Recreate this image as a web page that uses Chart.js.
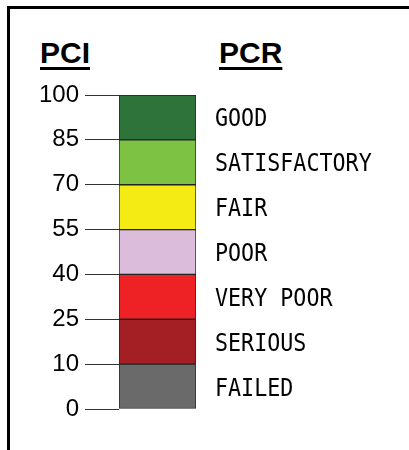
<!DOCTYPE html>
<html>
<head>
<meta charset="utf-8">
<script src="https://cdn.jsdelivr.net/npm/chart.js@4"></script>
<style>
    html, body { margin: 0; padding: 0; background: #fff; }
    #wrap { position: relative; width: 409px; height: 450px; overflow: hidden; }
    #frame {
        position: absolute; left: 7px; top: 6px; width: 402px; height: 444px;
        border-top: 3px solid #000; border-left: 3px solid #000; box-sizing: border-box;
    }
    .head {
        position: absolute; top: 38px; margin: 0;
        font: bold 30px "Liberation Sans", Arial, sans-serif; line-height: 1; color: #000;
        text-decoration: underline; text-decoration-thickness: 3px; text-underline-offset: 4px;
    }
    #chart { position: absolute; left: 0; top: 0; }
</style>
</head>
<body>
<div id="wrap">
    <div id="frame"></div>
    <div class="head" style="left:40px">PCI</div>
    <div class="head" style="left:219px">PCR</div>
    <canvas id="chart" width="409" height="450"></canvas>
</div>
<script>
// PCI break points, bottom to top, one per band edge
const pciTicks = ['0', '10', '25', '40', '55', '70', '85', '100'];
// PCR rating for each band, bottom to top
const ratings = ['FAILED', 'SERIOUS', 'VERY POOR', 'POOR', 'FAIR', 'SATISFACTORY', 'GOOD'];
const bandColors = ['#6a6a6a', '#a31f24', '#ee2125', '#dbbcdb', '#f5eb14', '#7dc242', '#2e733a'];

// every band gets the same height on the scale, edge i to edge i+1
const datasets = ratings.map((name, i) => ({
    label: name,
    data: [[i, i + 1]],
    backgroundColor: bandColors[i],
    borderColor: '#222',
    borderWidth: 1,
    borderSkipped: false,
    barPercentage: 1,
    categoryPercentage: 1
}));

// rating names in a tall narrow mono face, placed on the y2 tick positions
const ratingLabels = {
    id: 'ratingLabels',
    afterDraw(chart) {
        const { ctx, chartArea, scales } = chart;
        const y2 = scales.y2;
        ctx.save();
        ctx.fillStyle = '#000';
        ctx.font = '21.7px "DejaVu Sans Mono", "Liberation Mono", monospace';
        ctx.textAlign = 'left';
        ctx.textBaseline = 'alphabetic';
        y2.ticks.forEach(t => {
            const y = y2.getPixelForValue(t.value);
            ctx.save();
            ctx.translate(chartArea.right + 19, y + 9);
            ctx.scale(1, 1.14);
            ctx.fillText(ratings[Math.floor(t.value)], 0, 0);
            ctx.restore();
        });
        ctx.restore();
    }
};

new Chart(document.getElementById('chart').getContext('2d'), {
    type: 'bar',
    data: { labels: ['PCI'], datasets },
    plugins: [ratingLabels],
    options: {
        responsive: false,
        animation: false,
        layout: { padding: { top: 95, bottom: 41, left: 0, right: 0 } },
        plugins: { legend: { display: false }, tooltip: { enabled: false } },
        scales: {
            x: { stacked: true, display: false },
            y: {
                position: 'left',
                min: 0,
                max: pciTicks.length - 1,
                afterFit: scale => { scale.width = 119; },
                ticks: {
                    stepSize: 1,
                    padding: 6,
                    color: '#000',
                    font: { family: '"Liberation Sans", Arial, sans-serif', size: 24 },
                    callback: v => pciTicks[v]
                },
                grid: { drawOnChartArea: false, drawTicks: true, tickLength: 34, color: '#333', lineWidth: 1 },
                border: { display: false }
            },
            y2: {
                position: 'right',
                min: 0,
                max: ratings.length,
                afterFit: scale => { scale.width = 213; },
                afterBuildTicks: scale => {
                    scale.ticks = ratings.map((r, i) => ({ value: i + 0.5 }));
                },
                ticks: { display: false },
                grid: { display: false, drawTicks: false },
                border: { display: false }
            }
        }
    }
});
</script>
</body>
</html>
